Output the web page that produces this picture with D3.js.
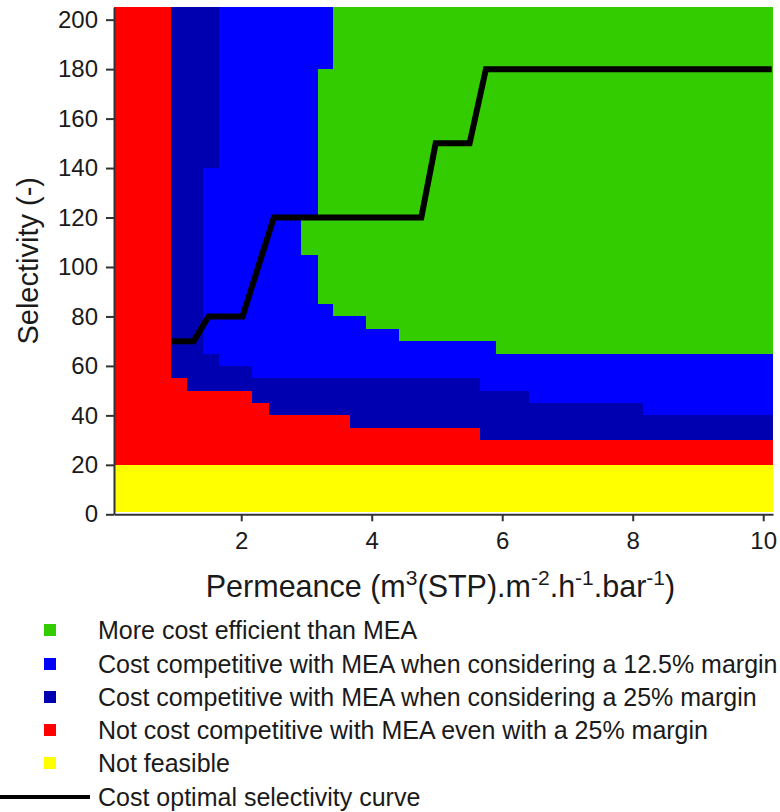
<!DOCTYPE html>
<html>
<head>
<meta charset="utf-8">
<script src="https://cdn.jsdelivr.net/npm/d3@7"></script>
<style>
  html, body { margin: 0; padding: 0; background: #ffffff; }
  svg { display: block; }
  text { font-family: "Liberation Sans", Arial, Helvetica, sans-serif; fill: #1a1a1a; }
</style>
</head>
<body>
<svg id="chart" width="780" height="812"></svg>
<script>
// Permeance column edges (m3(STP).m-2.h-1.bar-1); one region column between each pair
const permeanceEdges = [0.05, 0.92, 1.17, 1.42, 1.66, 2.16, 2.42, 2.92, 3.17, 3.41, 3.66, 3.91, 4.42, 5.66, 5.91, 6.41, 8.16, 10.15];

// Selectivity bounds per column
const notCompetitiveTop = [205, 55, 50, 50, 50, 45, 40, 40, 40, 40, 35, 35, 35, 30, 30, 30, 30];
const margin25Top       = [205, 205, 205, 65, 60, 55, 55, 55, 55, 55, 55, 55, 55, 50, 50, 45, 40];
const margin125Top      = [205, 205, 205, 140, 205, 205, 205, 205, 205, 205, 205, 205, 205, 205, 205, 205, 205];
const efficientLow      = [null, null, null, null, null, null, null, 105, 85, 80, 80, 75, 70, 70, 65, 65, 65];
const efficientTop      = [null, null, null, null, null, null, null, 120, 180, 205, 205, 205, 205, 205, 205, 205, 205];

// Infeasible band and top of the computed grid
const infeasibleBand = [1, 20];
const selectivityMax = 205;

// Cost optimal selectivity curve
const optimalPermeance  = [0.93, 1.27, 1.5, 2.02, 2.5, 4.76, 4.98, 5.5, 5.75, 10.13];
const optimalSelectivity = [70, 70, 80, 80, 120, 120, 150, 150, 180, 180];

// Axis ticks
const xTicks = [2, 4, 6, 8, 10];
const yTicks = [0, 20, 40, 60, 80, 100, 120, 140, 160, 180, 200];

// Legend
const legendLabels = [
  "More cost efficient than MEA",
  "Cost competitive with MEA when considering a 12.5% margin",
  "Cost competitive with MEA when considering a 25% margin",
  "Not cost competitive with MEA even with a 25% margin",
  "Not feasible"
];
const legendColors = ["#33cc00", "#0000ff", "#0000b0", "#ff0000", "#ffff00"];
const curveLabel = "Cost optimal selectivity curve";

const colors = {
  efficient: "#33cc00",
  margin125: "#0000ff",
  margin25: "#0000b0",
  notCompetitive: "#ff0000",
  infeasible: "#ffff00"
};

const svg = d3.select("#chart");
const plot = { left: 114, right: 773, top: 7.3, bottom: 514.3 };

const x = d3.scaleLinear().domain([0.05, 10.15]).range([plot.left, plot.right]);
const y = d3.scaleLinear().domain([0, 205]).range([plot.bottom, plot.top]);

const regions = svg.append("g").attr("shape-rendering", "crispEdges");

function band(x0, x1, s0, s1, fill) {
  if (s1 <= s0) return;
  regions.append("rect")
    .attr("x", x(x0))
    .attr("y", y(s1))
    .attr("width", x(x1) - x(x0))
    .attr("height", y(s0) - y(s1))
    .attr("fill", fill);
}

const first = permeanceEdges[0];
const last = permeanceEdges[permeanceEdges.length - 1];

// Infeasible band, then the not-competitive base layer
band(first, last, infeasibleBand[0], infeasibleBand[1], colors.infeasible);
band(first, last, infeasibleBand[1], selectivityMax, colors.notCompetitive);

notCompetitiveTop.forEach((top, i) => {
  const x0 = permeanceEdges[i], x1 = permeanceEdges[i + 1];
  band(x0, x1, top, selectivityMax, colors.margin25);
  band(x0, x1, margin25Top[i], margin125Top[i], colors.margin125);
  if (efficientLow[i] !== null) band(x0, x1, efficientLow[i], efficientTop[i], colors.efficient);
});

// Axes
const axisColor = "#333333";
const yAxis = svg.append("g")
  .attr("transform", `translate(${plot.left},0)`)
  .call(d3.axisLeft(y).tickValues(yTicks).tickSize(8).tickSizeOuter(0).tickPadding(8));
const xAxis = svg.append("g")
  .attr("transform", `translate(0,${plot.bottom})`)
  .call(d3.axisBottom(x).tickValues(xTicks).tickSize(7).tickSizeOuter(0).tickPadding(11));

[xAxis, yAxis].forEach(g => {
  g.attr("font-family", null).attr("font-size", null);
  g.select(".domain").attr("stroke", axisColor).attr("stroke-width", 2);
  g.selectAll(".tick line").attr("stroke", axisColor).attr("stroke-width", 2);
  g.selectAll(".tick text").style("font-size", "24px").attr("fill", "#1a1a1a");
});

// Cost optimal curve
const curve = d3.line()
  .x(i => x(optimalPermeance[i]))
  .y(i => y(optimalSelectivity[i]));
svg.append("path")
  .attr("d", curve(d3.range(optimalPermeance.length)))
  .attr("fill", "none")
  .attr("stroke", "#000")
  .attr("stroke-width", 6)
  .attr("stroke-linejoin", "miter")
  .attr("stroke-linecap", "butt");

// Axis titles
const xTitle = svg.append("text")
  .attr("x", (plot.left + plot.right) / 2 - 3)
  .attr("y", 597)
  .attr("text-anchor", "middle")
  .style("font-size", "30.5px");
const sup = (t, s) => { t.append("tspan").attr("dy", -12).style("font-size", "21px").text(s); };
const base = (t, s) => { t.append("tspan").attr("dy", 12).text(s); };
xTitle.append("tspan").text("Permeance (m");
sup(xTitle, "3");
base(xTitle, "(STP).m");
sup(xTitle, "-2");
base(xTitle, ".h");
sup(xTitle, "-1");
base(xTitle, ".bar");
sup(xTitle, "-1");
base(xTitle, ")");

svg.append("text")
  .attr("transform", `translate(38,${(plot.top + plot.bottom) / 2}) rotate(-90)`)
  .attr("text-anchor", "middle")
  .style("font-size", "29px")
  .text("Selectivity (-)");

// Legend
const legendY = [630, 664, 697, 730, 763];
const legend = svg.append("g");
legendLabels.forEach((label, i) => {
  legend.append("rect")
    .attr("x", 44).attr("y", legendY[i] - 6)
    .attr("width", 12).attr("height", 12)
    .attr("fill", legendColors[i]);
  legend.append("text")
    .attr("x", 98).attr("y", legendY[i] + 9)
    .style("font-size", "25px")
    .text(label);
});
legend.append("line")
  .attr("x1", 0).attr("x2", 90)
  .attr("y1", 797).attr("y2", 797)
  .attr("stroke", "#000").attr("stroke-width", 4);
legend.append("text")
  .attr("x", 98).attr("y", 806)
  .style("font-size", "25px")
  .text(curveLabel);
</script>
</body>
</html>
